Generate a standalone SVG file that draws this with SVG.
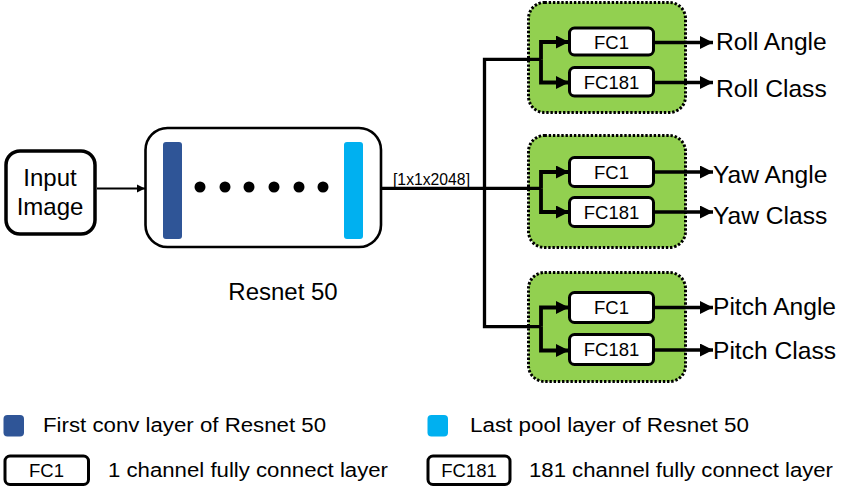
<svg xmlns="http://www.w3.org/2000/svg" width="842" height="489" viewBox="0 0 842 489">
<style>
text{font-family:"Liberation Sans",Arial,sans-serif;fill:#000}
.lbl{font-size:24px}
.out-l{font-size:24.6px}
.fc{font-size:18.5px;text-anchor:middle}
.lg{font-size:19.5px}
.box{fill:#fff;stroke:#000}
.grp{fill:#92D050;stroke:#000;stroke-width:3;stroke-dasharray:2.4 1.8}
.fcb{fill:#fff;stroke:#000;stroke-width:3}
.con{fill:none;stroke:#000;stroke-width:3.3}
.br{fill:none;stroke:#000;stroke-width:3.8;marker-end:url(#ah)}
.out{fill:none;stroke:#000;stroke-width:3.5;marker-end:url(#ah)}
</style>
<defs>
<marker id="ah" markerUnits="userSpaceOnUse" markerWidth="14" markerHeight="13" viewBox="0 0 14 13" refX="13" refY="6.5" orient="auto">
<path d="M0,0 L13,6.5 L0,13 z" fill="#000"/>
</marker>
<marker id="ahs" markerUnits="userSpaceOnUse" markerWidth="9" markerHeight="9" viewBox="0 0 9 9" refX="8" refY="4.5" orient="auto">
<path d="M0,0.5 L8,4.5 L0,8.5 z" fill="#000"/>
</marker>
</defs>

<g id="input">
<rect class="box" x="6" y="151" width="89" height="83" rx="14" stroke-width="3.5"/>
<text class="lbl" x="50" y="186" text-anchor="middle">Input</text>
<text class="lbl" x="50" y="215" text-anchor="middle">Image</text>
</g>

<g id="resnet">
<rect class="box" x="145.5" y="128" width="235.5" height="119" rx="22" stroke-width="2.6"/>
<rect x="163" y="142" width="19" height="97" rx="3" fill="#2F5597"/>
<rect x="344" y="142" width="19" height="97" rx="3" fill="#00B0F0"/>
<g fill="#000">
<circle cx="200" cy="187" r="5.5"/><circle cx="225" cy="187" r="5.5"/><circle cx="249" cy="187" r="5.5"/>
<circle cx="274" cy="187" r="5.5"/><circle cx="299" cy="187" r="5.5"/><circle cx="323" cy="187" r="5.5"/>
</g>
<text class="lbl" x="283" y="300" text-anchor="middle">Resnet 50</text>
</g>

<g id="roll">
<rect class="grp" x="528.5" y="2.5" width="157" height="110" rx="16"/>
<rect class="fcb" x="569.5" y="28" width="84" height="27" rx="5"/>
<text class="fc" x="611.5" y="48.5">FC1</text>
<rect class="fcb" x="569.5" y="67.5" width="84" height="28.5" rx="5"/>
<text class="fc" x="611.5" y="88.5">FC181</text>
</g>
<g id="yaw">
<rect class="grp" x="528.5" y="135.5" width="157" height="112" rx="16"/>
<rect class="fcb" x="569.5" y="157.5" width="84" height="29" rx="5"/>
<text class="fc" x="611.5" y="178.5">FC1</text>
<rect class="fcb" x="569.5" y="197.5" width="84" height="29" rx="5"/>
<text class="fc" x="611.5" y="218.5">FC181</text>
</g>
<g id="pitch">
<rect class="grp" x="528.5" y="272.5" width="157" height="109" rx="16"/>
<rect class="fcb" x="569.5" y="292.5" width="84" height="30" rx="5"/>
<text class="fc" x="611.5" y="314">FC1</text>
<rect class="fcb" x="569.5" y="334.5" width="84" height="30" rx="5"/>
<text class="fc" x="611.5" y="356">FC181</text>
</g>

<g id="connectors">
<path d="M97,188.5 H145" fill="none" stroke="#000" stroke-width="2" marker-end="url(#ahs)"/>
<path class="con" d="M382,188.3 H541"/>
<path class="con" d="M541,59.3 H484.5 V326.7 H541"/>
<path class="br" d="M541,59.3 V42 H569"/>
<path class="br" d="M541,59.3 V82.5 H569"/>
<path class="br" d="M541,188.3 V172 H569"/>
<path class="br" d="M541,188.3 V212 H569"/>
<path class="br" d="M541,326.7 V307.5 H569"/>
<path class="br" d="M541,326.7 V350.5 H569"/>
<path class="out" d="M654,42.5 H713"/>
<path class="out" d="M654,82.5 H713"/>
<path class="out" d="M654,172 H713"/>
<path class="out" d="M654,212 H713"/>
<path class="out" d="M654,307.5 H713"/>
<path class="out" d="M654,350 H713"/>
</g>

<g id="labels">
<text x="393" y="185" font-size="16" textLength="77" lengthAdjust="spacingAndGlyphs">[1x1x2048]</text>
<text class="out-l" x="716" y="50">Roll Angle</text>
<text class="out-l" x="716" y="97">Roll Class</text>
<text class="out-l" x="713" y="183">Yaw Angle</text>
<text class="out-l" x="713" y="224">Yaw Class</text>
<text class="out-l" x="713" y="315">Pitch Angle</text>
<text class="out-l" x="713" y="359">Pitch Class</text>
</g>

<g id="legend">
<rect x="3.5" y="415" width="20.5" height="21.5" rx="4" fill="#2F5597"/>
<text class="lg" x="43" y="432" textLength="283" lengthAdjust="spacingAndGlyphs">First conv layer of Resnet 50</text>
<rect x="427.5" y="415" width="20.5" height="21.5" rx="4" fill="#00B0F0"/>
<text class="lg" x="470" y="432" textLength="279" lengthAdjust="spacingAndGlyphs">Last pool layer of Resnet 50</text>
<rect class="fcb" x="5" y="456" width="83.5" height="28.5" rx="5" stroke-width="2.6"/>
<text class="fc" x="46.5" y="477" font-size="19">FC1</text>
<text class="lg" x="108" y="477" textLength="280" lengthAdjust="spacingAndGlyphs">1 channel fully connect layer</text>
<rect class="fcb" x="428" y="456" width="82" height="28.5" rx="5" stroke-width="2.6"/>
<text class="fc" x="469" y="477" font-size="19">FC181</text>
<text class="lg" x="529" y="477" textLength="304" lengthAdjust="spacingAndGlyphs">181 channel fully connect layer</text>
</g>
</svg>
